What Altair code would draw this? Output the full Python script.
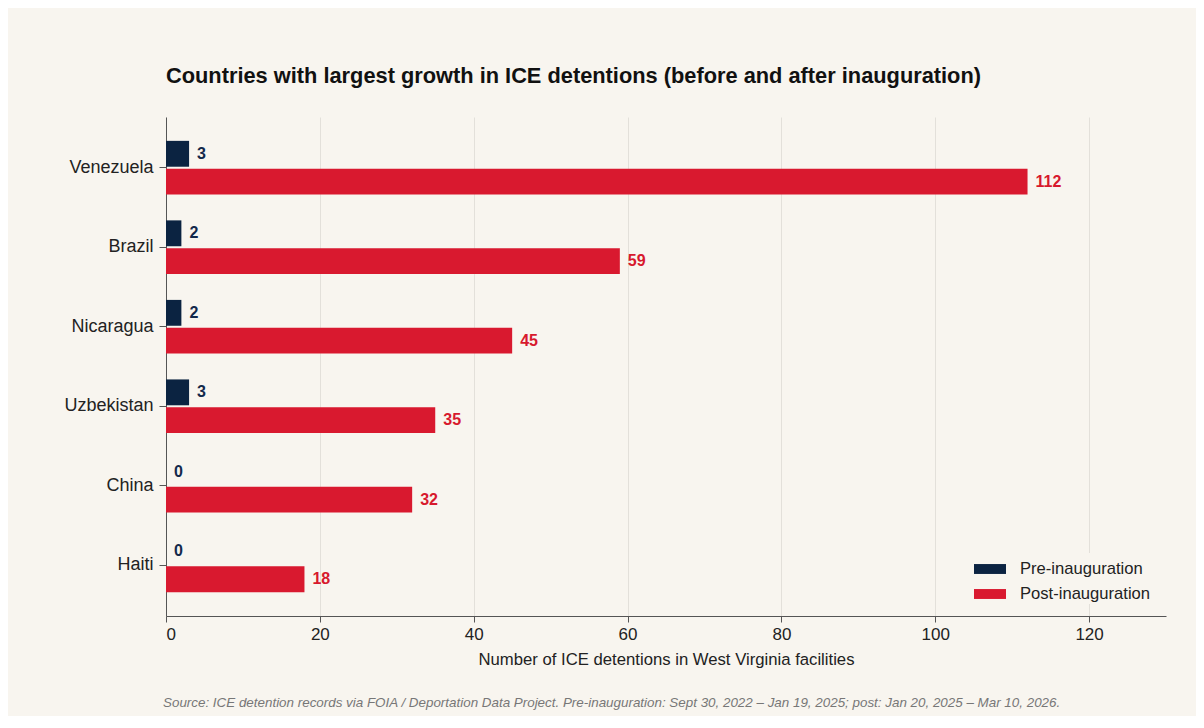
import altair as alt
import pandas as pd

countries = ["Venezuela", "Brazil", "Nicaragua", "Uzbekistan", "China", "Haiti"]
pre_values = [3, 2, 2, 3, 0, 0]
post_values = [112, 59, 45, 35, 32, 18]
periods = ["Pre-inauguration", "Post-inauguration"]
x_ticks = [0, 20, 40, 60, 80, 100, 120]

title_text = "Countries with largest growth in ICE detentions (before and after inauguration)"
x_title = "Number of ICE detentions in West Virginia facilities"
source_text = ("Source: ICE detention records via FOIA / Deportation Data Project. "
               "Pre-inauguration: Sept 30, 2022 \u2013 Jan 19, 2025; post: Jan 20, 2025 \u2013 Mar 10, 2026.")

bar_colors = ["#0b2341", "#d9192f"]
text_colors = ["#13294b", "#d7192d"]
BG = "#f8f5ef"
FONT = "Liberation Sans"

rows = []
for c, a, b in zip(countries, pre_values, post_values):
    rows.append({"country": c, "period": periods[0], "value": a})
    rows.append({"country": c, "period": periods[1], "value": b})
df = pd.DataFrame(rows)

W, H = 1000, 499

y_enc = alt.Y("country:N", sort=countries,
              scale=alt.Scale(paddingInner=0.325, paddingOuter=0.3),
              axis=alt.Axis(title=None, labelFontSize=18, labelColor="#222222", labelFont=FONT,
                            tickSize=7, tickColor="#555555", domainColor="#555555",
                            labelPadding=6, grid=False))
yoff_enc = alt.YOffset("period:N", sort=periods,
                       scale=alt.Scale(domain=periods, paddingInner=0.07, paddingOuter=0))
x_enc = alt.X("value:Q",
              scale=alt.Scale(domain=[0, 130], nice=False),
              axis=alt.Axis(values=x_ticks, title=x_title, titleFontSize=16.7, titleFont=FONT,
                            titleFontWeight="normal", titleColor="#222222", titlePadding=9,
                            labelFontSize=17, labelColor="#222222", labelFont=FONT,
                            tickSize=6, tickColor="#555555", domainColor="#555555",
                            labelPadding=4, grid=True, gridColor="#e3e0da", gridWidth=1))

bars = alt.Chart(df).mark_bar().encode(
    y=y_enc,
    yOffset=yoff_enc,
    x=x_enc,
    color=alt.Color("period:N", sort=periods,
                    scale=alt.Scale(domain=periods, range=bar_colors),
                    legend=alt.Legend(title=None, orient="none", legendX=808, legendY=436,
                                      symbolType="M-1,-0.31L1,-0.31L1,0.31L-1,0.31Z",
                                      symbolSize=1024, symbolStrokeWidth=0,
                                      labelFontSize=16.6, labelFont=FONT, labelColor="#222222",
                                      labelOffset=14, rowPadding=0,
                                      fillColor=BG, strokeColor=BG)),
)

labels = alt.Chart(df).mark_text(align="left", baseline="middle", dx=8,
                                 fontWeight="bold", fontSize=16, font=FONT).encode(
    y=alt.Y("country:N", sort=countries),
    yOffset=alt.YOffset("period:N", sort=periods),
    x=alt.X("value:Q"),
    text=alt.Text("value:Q"),
    color=alt.Color("period:N", sort=periods,
                    scale=alt.Scale(domain=periods, range=text_colors), legend=None),
)

source = alt.Chart(pd.DataFrame({"t": [source_text]})).mark_text(
    align="left", baseline="middle", fontStyle="italic", fontSize=13.4, font=FONT, color="#777777"
).encode(text="t:N", x=alt.value(-3), y=alt.value(586))

chart = alt.layer(bars, labels, source).resolve_scale(color="independent").properties(
    width=W, height=H,
    title=alt.TitleParams(title_text, anchor="start", frame="group", fontSize=21.8,
                          fontWeight="bold", font=FONT, color="#111111", offset=29),
    background=BG,
    autosize=alt.AutoSizeParams(type="none"),
    padding={"left": 158, "top": 109, "right": 30, "bottom": 100},
).configure_view(stroke=None)

chart.save("out.html", embed_options={"renderer": "svg", "actions": False})
